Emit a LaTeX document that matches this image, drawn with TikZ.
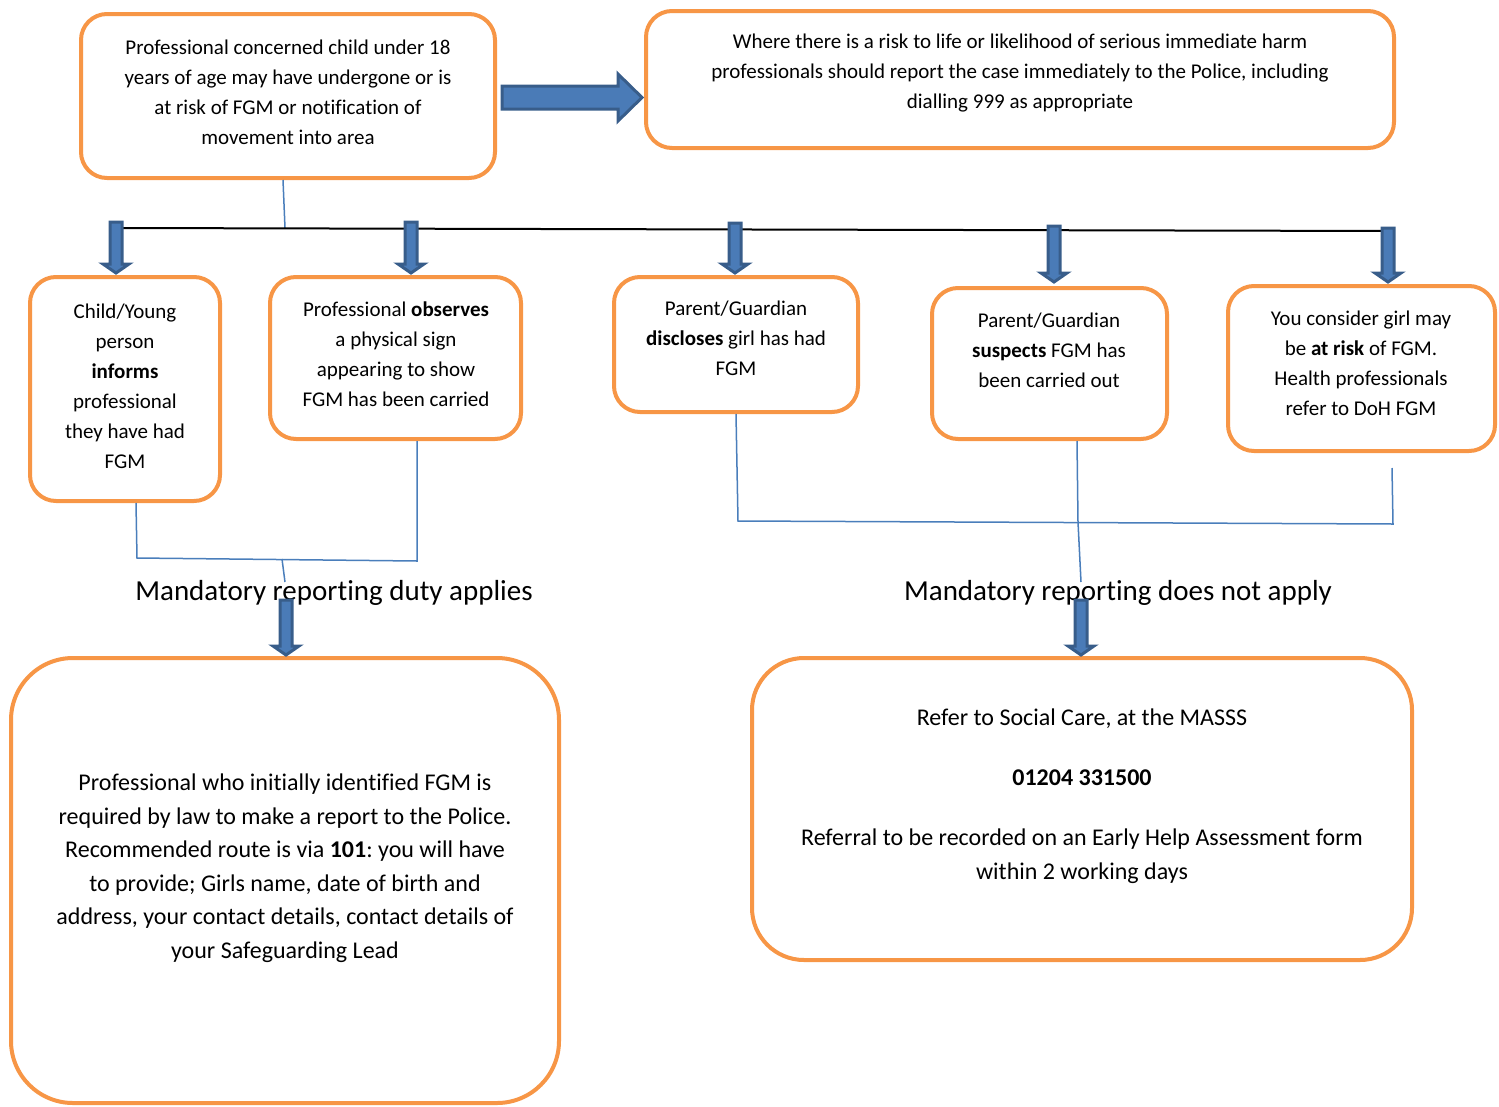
\documentclass[tikz,border=0pt]{standalone}
\usepackage{fontspec}
\setmainfont[Ligatures=NoCommon]{Carlito}
\frenchspacing
\definecolor{fgmorange}{HTML}{F79646}
\definecolor{fgmblue}{HTML}{4A7BB7}
\definecolor{fgmdark}{HTML}{385D8A}
\definecolor{fgmline}{HTML}{4A7EBB}
\tikzset{
  box/.style={draw=fgmorange, line width=4pt, rounded corners=26pt, fill=white, inner sep=0pt},
  txt/.style={align=center, inner sep=0pt, font=\fontsize{21}{30}\selectfont},
  bigtxt/.style={align=center, inner sep=0pt, font=\fontsize{24}{33.5}\selectfont},
  lbl/.style={inner sep=0pt, font=\fontsize{29}{34}\selectfont},
  conn/.style={draw=fgmline, line width=1.5pt},
  blockarrow/.style={fill=fgmblue, draw=fgmdark, line width=3pt, line join=miter},
}
\newcommand{\fgmdownarrow}[3]{%
  \draw[blockarrow] ({#1-6},{#2}) -- ({#1+6},{#2}) -- ({#1+6},{#3-9}) -- ({#1+13},{#3-9})
    -- ({#1},{#3}) -- ({#1-13},{#3-9}) -- ({#1-6},{#3-9}) -- cycle;}
\begin{document}
\begin{tikzpicture}[x=1pt,y=-1pt]
\useasboundingbox (0,0) rectangle (1499,1106);

% top boxes
\node[box, minimum width=414pt, minimum height=164pt] (b1) at (288,96) {};
\node[txt] (b1t) at (288,92) {Professional concerned child under 18\\years of age may have undergone or is\\at risk of FGM or notification of\\movement into area};
\node[box, minimum width=748pt, minimum height=137pt] (b2) at (1020,79.5) {};
\node[txt] (b2t) at (1020,73) {Where there is a risk to life or likelihood of serious immediate harm\\professionals should report the case immediately to the Police, including\\dialling 999 as appropriate};

% right block arrow
\draw[blockarrow] (502,86) -- (618,86) -- (618,74) -- (642,97.5) -- (618,121) -- (618,109) -- (502,109) -- cycle;

% connector from b1 to bar
\coordinate (barL) at (120,228);
\coordinate (barR) at (1388,231);
\draw[conn] (283,180) -- (285,228);
\draw[black, line width=2pt] (barL) -- (barR);

% second row boxes
\node[box, minimum width=190pt, minimum height=224pt] (b3) at (125,389) {};
\node[txt] (b3t) at (125,386) {Child/Young\\person\\\textbf{informs}\\professional\\they have had\\FGM};
\node[box, minimum width=251pt, minimum height=162pt] (b4) at (395.5,358) {};
\node[txt] (b4t) at (396,354.5) {Professional \textbf{observes}\\a physical sign\\appearing to show\\FGM has been carried};
\node[box, minimum width=244pt, minimum height=135pt] (b5) at (736,344.5) {};
\node[txt] (b5t) at (736,338) {Parent/Guardian\\\textbf{discloses} girl has had\\FGM};
\node[box, minimum width=235pt, minimum height=151pt] (b6) at (1049.5,363.5) {};
\node[txt] (b6t) at (1049,350) {Parent/Guardian\\\textbf{suspects} FGM has\\been carried out};
\node[box, minimum width=267pt, minimum height=165pt] (b7) at (1361.5,368.5) {};
\node[txt] (b7t) at (1361,363.5) {You consider girl may\\be \textbf{at risk} of FGM.\\Health professionals\\refer to DoH FGM};

% down arrows from bar
\fgmdownarrow{116}{222}{273}
\fgmdownarrow{411}{222}{273}
\fgmdownarrow{735}{223}{273}
\fgmdownarrow{1054}{226}{282}
\fgmdownarrow{1388}{228}{282}

% left group connectors
\draw[conn] (136,503) -- (137,558) -- (417,561) -- (417,441);
\draw[conn] (282,559) -- (285,582);
% right group connectors
\draw[conn] (736,414) -- (738,521) -- (1393,524) -- (1392,468);
\draw[conn] (1077,441) -- (1078,522) -- (1081,582);

% labels
\node[lbl] (l1) at (334,593) {Mandatory reporting duty applies};
\node[lbl] (l2) at (1118,593) {Mandatory reporting does not apply};

% bottom boxes
\node[box, rounded corners=62pt, minimum width=548pt, minimum height=445pt] (b8) at (285,880.5) {};
\node[bigtxt] (b8t) at (285,868) {Professional who initially identified FGM is\\required by law to make a report to the Police.\\Recommended route is via \textbf{101}: you will have\\to provide; Girls name, date of birth and\\address, your contact details, contact details of\\your Safeguarding Lead};
\node[box, rounded corners=52pt, minimum width=660pt, minimum height=302pt] (b9) at (1082,809) {};
\node[bigtxt, font=\fontsize{24}{34}\selectfont] (b9t) at (1082,796) {Refer to Social Care, at the MASSS\\[26pt]\textbf{01204 331500}\\[26pt]Referral to be recorded on an Early Help Assessment form\\within 2 working days};

% down arrows to bottom boxes
\fgmdownarrow{286}{600}{655}
\fgmdownarrow{1081}{600}{655}
\end{tikzpicture}
\end{document}
